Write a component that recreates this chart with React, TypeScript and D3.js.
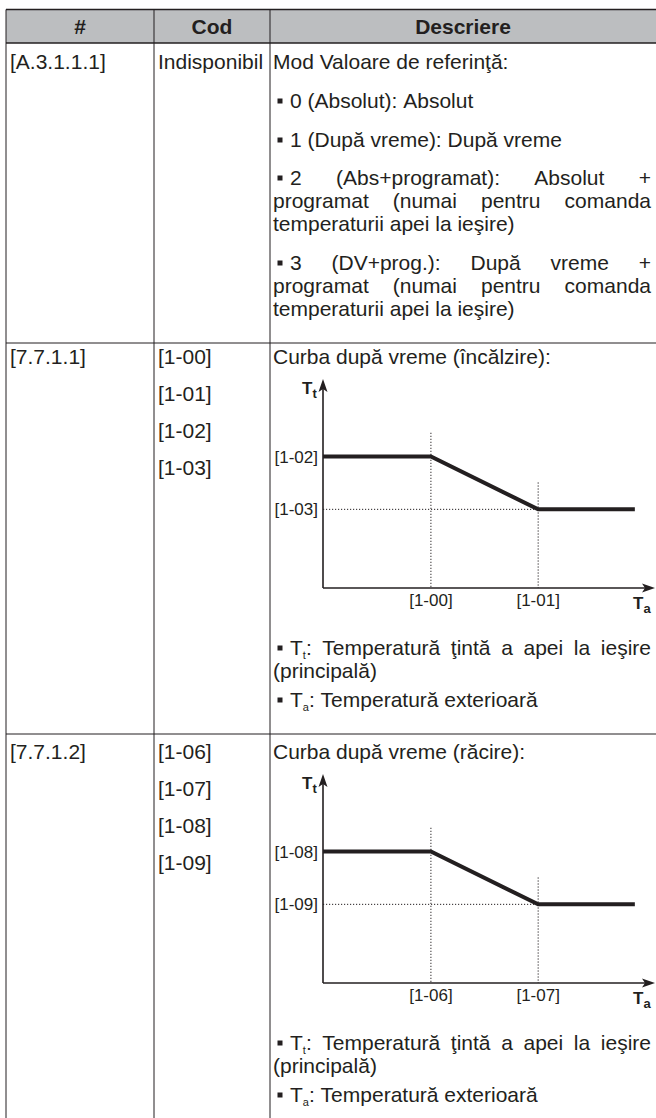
import React from "react";
import * as d3 from "d3";

const W = 656;
const H = 1118;
const FONT = "'Liberation Sans', Arial, Helvetica, sans-serif";
const INK = "#231f20";
const FS = 21;
const SUBFS = 11;
const SUBDY = 4;

// ---- table structure ----
const headers = ["#", "Cod", "Descriere"];
const colEdges = [6, 154, 270, 656];
const rowEdges = [9.5, 43, 343, 734];
const rowIds = ["[A.3.1.1.1]", "[7.7.1.1]", "[7.7.1.2]"];
const rowCodes = [
  ["Indisponibil"],
  ["[1-00]", "[1-01]", "[1-02]", "[1-03]"],
  ["[1-06]", "[1-07]", "[1-08]", "[1-09]"],
];
const rowFirstY = [62, 357, 752];
const codeStep = 37;

type Line = { y: number; text: string; bullet?: boolean; justify?: boolean };
const descRow1: Line[] = [
  { y: 62, text: "Mod Valoare de referinţă:" },
  { y: 101, text: "0 (Absolut): Absolut", bullet: true },
  { y: 140, text: "1 (După vreme): După vreme", bullet: true },
  { y: 178, text: "2 (Abs+programat): Absolut +", bullet: true, justify: true },
  { y: 201, text: "programat (numai pentru comanda", justify: true },
  { y: 224, text: "temperaturii apei la ieşire)" },
  { y: 263, text: "3 (DV+prog.): După vreme +", bullet: true, justify: true },
  { y: 286, text: "programat (numai pentru comanda", justify: true },
  { y: 309, text: "temperaturii apei la ieşire)" },
];
const chartTitles = ["Curba după vreme (încălzire):", "Curba după vreme (răcire):"];
const legendLines = [
  { dy: 0, text: "T_t: Temperatură ţintă a apei la ieşire", bullet: true, justify: true },
  { dy: 23, text: "(principală)" },
  { dy: 52, text: "T_a: Temperatură exterioară", bullet: true },
];

// ---- chart data (schematic weather curve) ----
const chartXLabels = [["[1-00]", "[1-01]"], ["[1-06]", "[1-07]"]];
const chartYLabels = [["[1-02]", "[1-03]"], ["[1-08]", "[1-09]"]];
const curveTa = [0, 3.27, 6.52, 9.45];
const curveTt = [6.35, 6.35, 3.8, 3.8];
const breakTa = [3.27, 6.52];
const breakTt = [6.35, 3.8];
const guideTop = [7.5, 5.1];

let _cv: HTMLCanvasElement | null = null;
function measure(text: string, size: number, weight = "normal") {
  if (!_cv) _cv = document.createElement("canvas");
  const ctx = _cv.getContext("2d")!;
  ctx.font = `${weight} ${size}px 'Liberation Sans'`;
  return ctx.measureText(text).width;
}

type Seg = { t: string; sub: boolean };
function parseWord(w: string): Seg[] {
  const segs: Seg[] = [];
  let i = 0;
  let buf = "";
  while (i < w.length) {
    if (w[i] === "_" && i + 1 < w.length) {
      if (buf) segs.push({ t: buf, sub: false });
      buf = "";
      segs.push({ t: w[i + 1], sub: true });
      i += 2;
    } else {
      buf += w[i];
      i++;
    }
  }
  if (buf) segs.push({ t: buf, sub: false });
  return segs;
}
function segWidth(s: Seg) {
  return measure(s.t, s.sub ? SUBFS : FS);
}

function TextLine({ x0, x1, base, text, justify }: any) {
  const words: Seg[][] = text.split(" ").map(parseWord);
  const widths = words.map((ws) => d3.sum(ws, segWidth));
  const total = d3.sum(widths);
  const gap =
    justify && words.length > 1 ? (x1 - x0 - total) / (words.length - 1) : measure(" ", FS);
  const spans: any[] = [];
  let x = x0;
  let off = 0;
  words.forEach((ws, wi) => {
    ws.forEach((s, si) => {
      const target = s.sub ? SUBDY : 0;
      const dy = target - off;
      off = target;
      spans.push(
        <tspan
          key={`${wi}-${si}`}
          x={si === 0 ? x : undefined}
          dy={dy !== 0 ? dy : undefined}
          fontSize={s.sub ? SUBFS : FS}
        >
          {s.t}
        </tspan>
      );
    });
    x += widths[wi] + gap;
  });
  return (
    <text y={base} fill={INK} fontSize={FS}>
      {spans}
    </text>
  );
}

function Desc({ lines }: { lines: Line[] }) {
  return (
    <g>
      {lines.map((l, i) => {
        const base = l.y + 7;
        const x0 = l.bullet ? 290 : 273;
        return (
          <g key={i}>
            {l.bullet && <rect x={277.5} y={base - 9.5} width={5} height={5} fill={INK} />}
            <TextLine x0={x0} x1={651} base={base} text={l.text} justify={l.justify} />
          </g>
        );
      })}
    </g>
  );
}

function Chart({ top, idx }: { top: number; idx: number }) {
  const axisY = top + 231;
  const x = d3.scaleLinear().domain([0, 10]).range([323, 653]);
  const y = d3.scaleLinear().domain([0, 10]).range([axisY, top + 24]);
  const line = d3
    .line<number>()
    .x((_, i) => x(curveTa[i]))
    .y((d) => y(d));
  const x0 = x(0);
  const dots = "1.2 1.8";
  return (
    <g>
      {breakTa.map((b, i) => (
        <line
          key={"v" + i}
          x1={x(b)}
          x2={x(b)}
          y1={y(guideTop[i])}
          y2={axisY}
          stroke={INK}
          strokeWidth={1}
          strokeDasharray={dots}
        />
      ))}
      <line
        x1={x0}
        x2={x(breakTa[1])}
        y1={y(breakTt[1])}
        y2={y(breakTt[1])}
        stroke={INK}
        strokeWidth={1}
        strokeDasharray={dots}
      />
      <line x1={x0} x2={x0} y1={axisY} y2={y(10) + 8} stroke={INK} strokeWidth={1.6} />
      <line x1={x0} x2={x(10) - 8} y1={axisY} y2={axisY} stroke={INK} strokeWidth={1.6} />
      <path
        d={`M${x0},${y(10) - 2} L${x0 - 4.5},${y(10) + 11} L${x0},${y(10) + 8} L${x0 + 4.5},${y(10) + 11} Z`}
        fill={INK}
      />
      <path
        d={`M${x(10) + 2},${axisY} L${x(10) - 11},${axisY - 4.5} L${x(10) - 8},${axisY} L${x(10) - 11},${axisY + 4.5} Z`}
        fill={INK}
      />
      <path d={line(curveTt) || ""} fill="none" stroke={INK} strokeWidth={4} />
      {chartYLabels[idx].map((t, i) => (
        <text key={"yl" + i} x={318} y={y(breakTt[i]) + 6} fontSize={17} textAnchor="end" fill={INK}>
          {t}
        </text>
      ))}
      {chartXLabels[idx].map((t, i) => (
        <text
          key={"xl" + i}
          x={x(breakTa[i])}
          y={axisY + 18}
          fontSize={17}
          textAnchor="middle"
          fill={INK}
        >
          {t}
        </text>
      ))}
      <text x={302} y={top + 37} fontSize={17} fontWeight="bold" fill={INK}>
        T<tspan dy={4} fontSize={13}>t</tspan>
      </text>
      <text x={633} y={axisY + 21} fontSize={17} fontWeight="bold" fill={INK}>
        T<tspan dy={4} fontSize={13}>a</tspan>
      </text>
    </g>
  );
}

export default function App() {
  const colX = colEdges;
  return (
    <svg
      width={W}
      height={H}
      viewBox={`0 0 ${W} ${H}`}
      style={{ position: "absolute", left: 0, top: 0, background: "#fff" }}
      fontFamily={FONT}
    >
      <rect x={0} y={0} width={W} height={H} fill="#fff" />
      <rect
        x={colX[0]}
        y={rowEdges[0]}
        width={W - colX[0]}
        height={rowEdges[1] - rowEdges[0]}
        fill="#bcbec0"
      />
      {headers.map((h, i) => (
        <text
          key={h}
          x={(colX[i] + colX[i + 1]) / 2}
          y={34}
          fontSize={FS}
          fontWeight="bold"
          textAnchor="middle"
          fill={INK}
        >
          {h}
        </text>
      ))}
      <line x1={colX[0]} x2={W} y1={rowEdges[0]} y2={rowEdges[0]} stroke={INK} strokeWidth={1.5} />
      <line x1={colX[0]} x2={W} y1={rowEdges[1]} y2={rowEdges[1]} stroke={INK} strokeWidth={1.5} />
      {rowEdges.slice(2).map((yy, i) => (
        <line key={"h" + i} x1={colX[0]} x2={W} y1={yy} y2={yy} stroke={INK} strokeWidth={1} />
      ))}
      {colX.slice(0, 3).map((xx, i) => (
        <line key={"v" + i} x1={xx} x2={xx} y1={rowEdges[0]} y2={H} stroke={INK} strokeWidth={1} />
      ))}
      {rowIds.map((id, r) => (
        <g key={id}>
          <text x={10} y={rowFirstY[r] + 7} fontSize={FS} fill={INK}>
            {id}
          </text>
          {rowCodes[r].map((c, j) => (
            <text key={c} x={158} y={rowFirstY[r] + 7 + j * codeStep} fontSize={FS} fill={INK}>
              {c}
            </text>
          ))}
        </g>
      ))}
      <Desc lines={descRow1} />
      {chartTitles.map((t, i) => {
        const top = rowFirstY[i + 1];
        const legY = top + 231 + 60;
        return (
          <g key={t}>
            <Desc lines={[{ y: top, text: t }]} />
            <Chart top={top} idx={i} />
            <Desc lines={legendLines.map((l) => ({ ...l, y: legY + l.dy }))} />
          </g>
        );
      })}
    </svg>
  );
}
